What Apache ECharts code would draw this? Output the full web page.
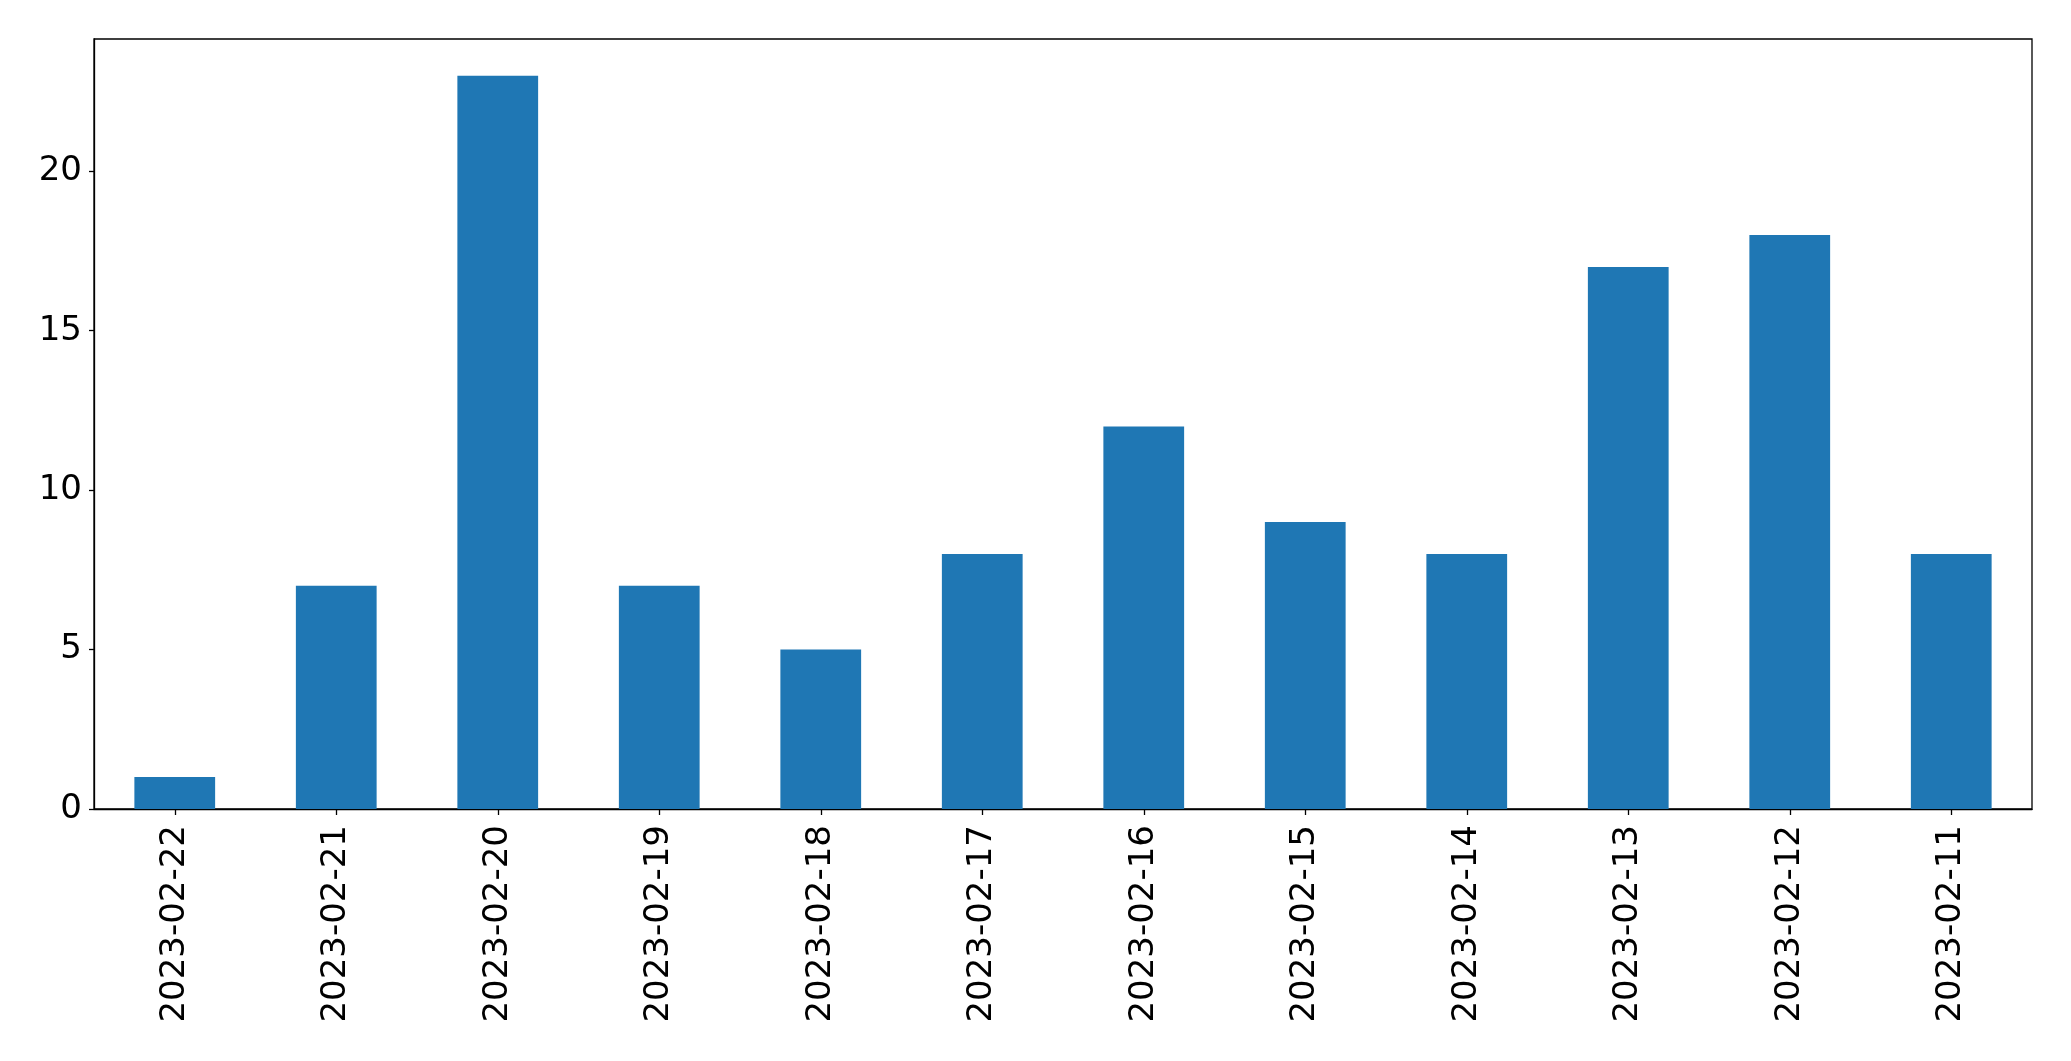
<!DOCTYPE html>
<html>
<head>
<meta charset="utf-8">
<script src="https://cdn.jsdelivr.net/npm/echarts@6/dist/echarts.min.js"></script>
<style>html,body{margin:0;padding:0;background:#fff;}#c{width:2071px;height:1061px;}</style>
</head>
<body>
<div id="c"></div>
<script>
const categories = ['2023-02-22','2023-02-21','2023-02-20','2023-02-19','2023-02-18','2023-02-17','2023-02-16','2023-02-15','2023-02-14','2023-02-13','2023-02-12','2023-02-11'];
const values = [1, 7, 23, 7, 5, 8, 12, 9, 8, 17, 18, 8];
const yTicks = [0, 5, 10, 15, 20];

const chart = echarts.init(document.getElementById('c'), null, {renderer: 'canvas'});
chart.setOption({
  animation: false,
  backgroundColor: '#ffffff',
  grid: {left: 94, top: 39, right: 39, bottom: 252, show: true, borderColor: '#000', borderWidth: 1.3, backgroundColor: 'transparent'},
  xAxis: {
    type: 'category',
    data: categories,
    boundaryGap: true,
    axisLine: {show: true, lineStyle: {color: '#000', width: 1.3}},
    axisTick: {show: true, alignWithLabel: true, length: 6, lineStyle: {color: '#000', width: 1.3}},
    axisLabel: {rotate: 90, margin: 16, color: '#000', fontSize: 34, fontFamily: 'DejaVu Sans', interval: 0},
    splitLine: {show: false}
  },
  yAxis: {
    type: 'value',
    min: 0,
    max: 24.15,
    interval: 5,
    axisLine: {show: true, lineStyle: {color: '#000', width: 1.3}},
    axisTick: {show: true, length: 5, customValues: yTicks, lineStyle: {color: '#000', width: 1.3}},
    axisLabel: {margin: 12, color: '#000', fontSize: 34, fontFamily: 'DejaVu Sans', customValues: yTicks},
    splitLine: {show: false}
  },
  series: [{
    type: 'bar',
    data: values,
    barWidth: '50%',
    itemStyle: {color: '#1f77b4'}
  }]
});
</script>
</body>
</html>
